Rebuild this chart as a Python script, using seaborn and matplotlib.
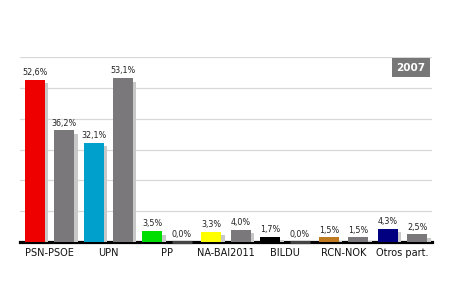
import matplotlib
matplotlib.use("Agg")
import matplotlib.pyplot as plt
import matplotlib.patheffects as pe
import seaborn as sns
import numpy as np

parties = ["PSN-PSOE", "UPN", "PP", "NA-BAI2011", "BILDU", "RCN-NOK", "Otros part."]
values_2011 = [52.6, 32.1, 3.5, 3.3, 1.7, 1.5, 4.3]
values_2007 = [36.2, 53.1, 0.0, 4.0, 0.0, 1.5, 2.5]
party_colors = ["#ee0000", "#00a0cc", "#00dd00", "#ffff00", "#000000", "#c07a20", "#000080"]
prev_color = "#7a787b"
zero_color = "#444444"
year_label = "2007"

vals, cols = [], []
for p, a, b, c in zip(parties, values_2011, values_2007, party_colors):
    vals += [a, b]
    cols += [c, prev_color if b > 0 else zero_color]
idx = [str(i) for i in range(len(vals))]

sns.set_style("white")
fig = plt.figure(figsize=(4.5, 3.0), dpi=100)
ax = fig.add_axes([20/450, 58/300, 412/450, 185/300])

sns.barplot(x=idx, y=vals, hue=idx, palette=cols, legend=False, width=0.68,
            ax=ax, saturation=1, order=idx, hue_order=idx, linewidth=0)

for patch, v, c in zip(ax.patches, vals, cols):
    patch.set_zorder(3)
    if v == 0:
        patch.set_edgecolor(zero_color)
        patch.set_linewidth(2.3)
        patch.set_clip_on(False)
    else:
        patch.set_linewidth(0)
        patch.set_path_effects([pe.SimplePatchShadow(offset=(2.5, -2.5), shadow_rgbFace="#c8c8c8", alpha=1.0),
                                pe.Normal()])
    ax.text(patch.get_x() + patch.get_width()/2, v + 0.9,
            f"{v:.1f}%".replace(".", ","), ha="center", va="bottom",
            fontsize=5.8, color="#222222", zorder=5)

ax.set_ylim(0, 60)
ax.set_xlim(-0.5, len(vals) - 0.5)
ax.set_yticks([10, 20, 30, 40, 50, 60])
ax.yaxis.grid(True, color="#d8d8d8", linewidth=0.9)
ax.set_axisbelow(True)
ax.tick_params(axis="y", left=False, labelleft=False)
ax.set_xticks([2*i + 0.5 for i in range(len(parties))])
ax.set_xticklabels(parties, fontsize=7, color="#111111")
ax.tick_params(axis="x", length=0, pad=4)
for s in ["top", "right", "left"]:
    ax.spines[s].set_visible(False)
ax.spines["bottom"].set_color("black")
ax.spines["bottom"].set_linewidth(2.3)
ax.spines["bottom"].set_zorder(2)
ax.set_xlabel("")
ax.set_ylabel("")

ax.text(0.984, 0.97, year_label, transform=ax.transAxes, ha="right", va="top",
        fontsize=7.5, fontweight="bold", color="white",
        bbox=dict(boxstyle="square,pad=0.4", facecolor="#777777", edgecolor="none"))

fig.savefig("out.png", dpi=100)
